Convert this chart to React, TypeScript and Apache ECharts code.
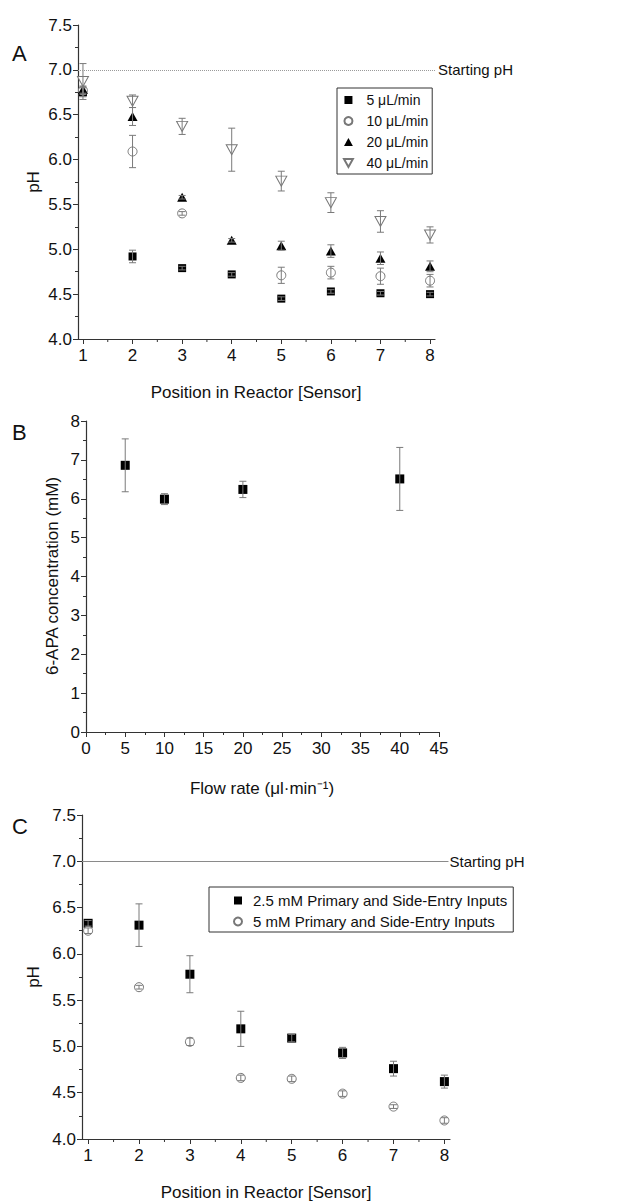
import React, { useEffect, useRef } from "react";
import * as echarts from "echarts";

// ---------- Data ----------
const positions = [1, 2, 3, 4, 5, 6, 7, 8];
const positionMinor = [1.5, 2.5, 3.5, 4.5, 5.5, 6.5, 7.5];

// Panel A: pH along reactor for different flow rates
const ph5 = [6.75, 4.92, 4.79, 4.72, 4.45, 4.53, 4.51, 4.5];
const ph5Err = [0.05, 0.07, 0.02, 0.02, 0.02, 0.02, 0.02, 0.02];
const ph10 = [6.77, 6.09, 5.4, null, 4.71, 4.74, 4.7, 4.65];
const ph10Err = [0.04, 0.18, 0.02, null, 0.09, 0.07, 0.09, 0.07];
const ph20 = [6.78, 6.48, 5.58, 5.1, 5.04, 4.98, 4.9, 4.81];
const ph20Err = [0.04, 0.1, 0.02, 0.02, 0.05, 0.07, 0.07, 0.06];
const ph40 = [6.87, 6.65, 6.37, 6.11, 5.76, 5.52, 5.31, 5.16];
const ph40Err = [0.2, 0.07, 0.09, 0.24, 0.11, 0.11, 0.12, 0.09];
const namesA = ["5 μL/min", "10 μL/min", "20 μL/min", "40 μL/min"];

// Panel B: 6-APA concentration vs flow rate
const flowRates = [5, 10, 20, 40];
const apa = [6.86, 5.99, 6.24, 6.51];
const apaErr = [0.68, 0.14, 0.21, 0.81];

// Panel C: pH for two concentrations
const ph25mM = [6.33, 6.31, 5.78, 5.19, 5.09, 4.93, 4.76, 4.62];
const ph25mMErr = [0.03, 0.23, 0.2, 0.19, 0.04, 0.06, 0.08, 0.07];
const ph5mM = [6.25, 5.64, 5.05, 4.66, 4.65, 4.49, 4.35, 4.2];
const ph5mMErr = [0.03, 0.02, 0.04, 0.03, 0.03, 0.03, 0.02, 0.03];
const namesC = ["2.5 mM Primary and Side-Entry Inputs", "5 mM Primary and Side-Entry Inputs"];

const startingPH = 7.0;
const phMin = 4;

// ---------- Helpers ----------
const FONT = 'Arial, "Liberation Sans", sans-serif';
const AXIS_COLOR = "#333";
const ERR_COLOR = "#7a7a7a";

const pts = (xs: number[], ys: (number | null)[]) =>
  xs.map((x, i) => (ys[i] == null ? null : [x, ys[i]])).filter(Boolean) as number[][];

const errs = (xs: number[], ys: (number | null)[], es: (number | null)[]) =>
  xs
    .map((x, i) =>
      ys[i] == null || es[i] == null ? null : [x, (ys[i] as number) - (es[i] as number), (ys[i] as number) + (es[i] as number)]
    )
    .filter(Boolean) as number[][];

const errRender = (params: any, api: any) => {
  const x = api.value(0);
  const lo = api.value(1);
  const hi = api.value(2);
  const top = api.coord([x, hi]);
  const bot = api.coord([x, lo]);
  const w = 3.5;
  const style = { stroke: ERR_COLOR, lineWidth: 1, fill: "none" };
  return {
    type: "group",
    children: [
      { type: "line", shape: { x1: top[0], y1: top[1], x2: bot[0], y2: bot[1] }, style },
      { type: "line", shape: { x1: top[0] - w, y1: top[1], x2: top[0] + w, y2: top[1] }, style },
      { type: "line", shape: { x1: bot[0] - w, y1: bot[1], x2: bot[0] + w, y2: bot[1] }, style },
    ],
  };
};

const errSeries = (name: string, xi: number, yi: number, data: number[][]) => ({
  type: "custom",
  name,
  xAxisIndex: xi,
  yAxisIndex: yi,
  renderItem: errRender,
  encode: { x: 0, y: [1, 2] },
  data,
  z: 3,
  clip: false,
  silent: true,
});

// minor ticks on the position axes (halfway between sensors)
const minorTickRender = (params: any, api: any) => {
  const p = api.coord([api.value(0), api.value(1)]);
  return {
    type: "line",
    shape: { x1: p[0], y1: p[1], x2: p[0], y2: p[1] + 3 },
    style: { stroke: AXIS_COLOR, lineWidth: 1 },
  };
};
const minorTickSeries = (xi: number, yi: number) => ({
  type: "custom",
  name: "minorTicks" + xi,
  xAxisIndex: xi,
  yAxisIndex: yi,
  renderItem: minorTickRender,
  encode: { x: 0, y: 1 },
  data: positionMinor.map((v) => [v, phMin]),
  clip: false,
  silent: true,
  z: 1,
});

const baseAxisLine = { show: true, lineStyle: { color: AXIS_COLOR, width: 1.2 } };
const labelStyle = { color: "#111", fontSize: 17, fontFamily: FONT };

const posMainX = (grid: number, min: number, max: number) => ({
  type: "value",
  gridIndex: grid,
  position: "bottom",
  min,
  max,
  axisLine: baseAxisLine,
  axisTick: { show: true, length: 5, customValues: positions, lineStyle: { color: AXIS_COLOR } },
  axisLabel: { ...labelStyle, margin: 8, customValues: positions, formatter: (v: number) => String(v) },
  splitLine: { show: false },
});
const phY = (grid: number) => ({
  type: "value",
  gridIndex: grid,
  min: phMin,
  max: 7.5,
  interval: 0.5,
  axisLine: baseAxisLine,
  axisTick: { show: true, length: 5, lineStyle: { color: AXIS_COLOR } },
  minorTick: { show: true, splitNumber: 2, length: 3, lineStyle: { color: AXIS_COLOR } },
  axisLabel: { ...labelStyle, margin: 6, formatter: (v: number) => v.toFixed(1) },
  splitLine: { show: false },
});

const hollow = { color: "#fff", borderColor: "#777", borderWidth: 1, opacity: 1 };
const solid = { color: "#000", opacity: 1 };
const square = "path://M0,0L10,0L10,10L0,10Z";
const upTri = "path://M5,0L10,9L0,9Z";
const downTri = "path://M0,0L10,0L5,9Z";

export default function App() {
  const ref = useRef<HTMLDivElement>(null);
  useEffect(() => {
    if (!ref.current) return;
    const chart = echarts.init(ref.current, null, { renderer: "svg" });

    const option: any = {
      animation: false,
      backgroundColor: "#fff",
      textStyle: { fontFamily: FONT },
      grid: [
        { left: 78, top: 25, width: 357, height: 314 },
        { left: 86, top: 421, width: 353, height: 311 },
        { left: 82, top: 815, width: 368, height: 324 },
      ],
      xAxis: [
        posMainX(0, 0.9, 8.1),
        {
          type: "value",
          gridIndex: 1,
          position: "bottom",
          min: 0,
          max: 45,
          interval: 5,
          axisLine: baseAxisLine,
          axisTick: { show: true, length: 5, lineStyle: { color: AXIS_COLOR } },
          minorTick: { show: true, splitNumber: 2, length: 3, lineStyle: { color: AXIS_COLOR } },
          axisLabel: { ...labelStyle, margin: 8 },
          splitLine: { show: false },
        },
        posMainX(2, 0.88, 8.11),
      ],
      yAxis: [
        phY(0),
        {
          type: "value",
          gridIndex: 1,
          min: 0,
          max: 8,
          interval: 1,
          axisLine: baseAxisLine,
          axisTick: { show: true, length: 5, lineStyle: { color: AXIS_COLOR } },
          minorTick: { show: true, splitNumber: 2, length: 3, lineStyle: { color: AXIS_COLOR } },
          axisLabel: { ...labelStyle, margin: 6 },
          splitLine: { show: false },
        },
        phY(2),
      ],
      legend: [
        {
          data: namesA,
          orient: "vertical",
          left: 337,
          top: 88,
          itemWidth: 26,
          itemHeight: 8,
          itemGap: 7,
          symbolKeepAspect: true,
          padding: [5, 4, 4, 6],
          borderColor: "#333",
          borderWidth: 1,
          textStyle: { fontSize: 14, lineHeight: 14, color: "#111", fontFamily: FONT },
        },
        {
          data: namesC,
          orient: "vertical",
          left: 209,
          top: 887,
          itemWidth: 20,
          itemHeight: 8,
          itemGap: 6,
          symbolKeepAspect: true,
          padding: [6, 6, 3, 24],
          borderColor: "#333",
          borderWidth: 1,
          textStyle: { fontSize: 15, lineHeight: 15, color: "#111", fontFamily: FONT },
        },
      ],
      series: [
        // Starting pH lines
        {
          type: "line",
          name: "startA",
          xAxisIndex: 0,
          yAxisIndex: 0,
          data: [],
          markLine: {
            silent: true,
            symbol: "none",
            lineStyle: { color: "#9a9a9a", type: "dotted", width: 1 },
            label: { show: true, position: "end", formatter: "Starting pH", distance: 3, color: "#111", fontSize: 15, fontFamily: FONT },
            data: [[{ coord: [0.9, startingPH] }, { coord: [8.1, startingPH] }]],
          },
        },
        {
          type: "line",
          name: "startC",
          xAxisIndex: 2,
          yAxisIndex: 2,
          data: [],
          markLine: {
            silent: true,
            symbol: "none",
            lineStyle: { color: "#8a8a8a", type: "solid", width: 1 },
            label: { show: true, position: "end", formatter: "Starting pH", distance: 1, color: "#111", fontSize: 15, fontFamily: FONT },
            data: [[{ coord: [0.88, startingPH] }, { coord: [8.08, startingPH] }]],
          },
        },
        minorTickSeries(0, 0),
        minorTickSeries(2, 2),
        // Panel A markers
        { type: "scatter", name: namesA[0], xAxisIndex: 0, yAxisIndex: 0, symbol: square, symbolSize: 8, itemStyle: solid, data: pts(positions, ph5), z: 2 },
        { type: "scatter", name: namesA[1], xAxisIndex: 0, yAxisIndex: 0, symbol: "circle", symbolSize: 9, itemStyle: hollow, data: pts(positions, ph10), z: 2 },
        { type: "scatter", name: namesA[2], xAxisIndex: 0, yAxisIndex: 0, symbol: upTri, symbolSize: [10, 9], itemStyle: solid, data: pts(positions, ph20), z: 2 },
        { type: "scatter", name: namesA[3], xAxisIndex: 0, yAxisIndex: 0, symbol: downTri, symbolSize: [11, 10], itemStyle: hollow, data: pts(positions, ph40), z: 2 },
        errSeries("errA5", 0, 0, errs(positions, ph5, ph5Err)),
        errSeries("errA10", 0, 0, errs(positions, ph10, ph10Err)),
        errSeries("errA20", 0, 0, errs(positions, ph20, ph20Err)),
        errSeries("errA40", 0, 0, errs(positions, ph40, ph40Err)),
        // Panel B
        { type: "scatter", name: "6-APA", xAxisIndex: 1, yAxisIndex: 1, symbol: square, symbolSize: 9, itemStyle: solid, data: pts(flowRates, apa), z: 2 },
        errSeries("errB", 1, 1, errs(flowRates, apa, apaErr)),
        // Panel C
        { type: "scatter", name: namesC[0], xAxisIndex: 2, yAxisIndex: 2, symbol: square, symbolSize: 9, itemStyle: solid, data: pts(positions, ph25mM), z: 2 },
        { type: "scatter", name: namesC[1], xAxisIndex: 2, yAxisIndex: 2, symbol: "circle", symbolSize: 9, itemStyle: hollow, data: pts(positions, ph5mM), z: 2 },
        errSeries("errC25", 2, 2, errs(positions, ph25mM, ph25mMErr)),
        errSeries("errC5", 2, 2, errs(positions, ph5mM, ph5mMErr)),
      ],
      graphic: [
        { type: "text", left: 12, top: 42, style: { text: "A", fontSize: 22, fontFamily: FONT, fill: "#111" } },
        { type: "text", left: 12, top: 421, style: { text: "B", fontSize: 22, fontFamily: FONT, fill: "#111" } },
        { type: "text", left: 12, top: 815, style: { text: "C", fontSize: 22, fontFamily: FONT, fill: "#111" } },
        { type: "text", x: 33, y: 182, rotation: Math.PI / 2, style: { text: "pH", fontSize: 17, fontFamily: FONT, fill: "#111", align: "center", verticalAlign: "middle" } },
        { type: "text", x: 52, y: 576, rotation: Math.PI / 2, style: { text: "6-APA concentration (mM)", fontSize: 17, fontFamily: FONT, fill: "#111", align: "center", verticalAlign: "middle" } },
        { type: "text", x: 33, y: 977, rotation: Math.PI / 2, style: { text: "pH", fontSize: 17, fontFamily: FONT, fill: "#111", align: "center", verticalAlign: "middle" } },
        { type: "text", x: 256, y: 392, style: { text: "Position in Reactor [Sensor]", fontSize: 17, fontFamily: FONT, fill: "#111", align: "center", verticalAlign: "middle" } },
        { type: "text", x: 262, y: 788, style: { text: "Flow rate (μl·min⁻¹)", fontSize: 17, fontFamily: FONT, fill: "#111", align: "center", verticalAlign: "middle" } },
        { type: "text", x: 266, y: 1192, style: { text: "Position in Reactor [Sensor]", fontSize: 17, fontFamily: FONT, fill: "#111", align: "center", verticalAlign: "middle" } },
      ],
    };

    chart.setOption(option);
    return () => chart.dispose();
  }, []);

  return <div ref={ref} style={{ position: "absolute", left: 0, top: 0, width: 625, height: 1203 }} />;
}
